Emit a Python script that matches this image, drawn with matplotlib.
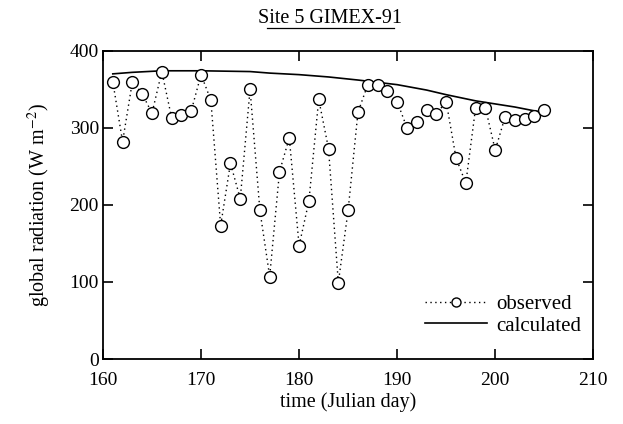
import matplotlib
matplotlib.use('Agg')
import matplotlib.pyplot as plt
from matplotlib.lines import Line2D

# observed daily global radiation, Site 5 GIMEX-91
days = list(range(161, 206))
observed = [360, 282, 360, 344, 319, 373, 313, 316, 322, 369,
            336, 173, 254, 208, 350, 193, 107, 243, 287, 147,
            205, 337, 273, 99, 193, 320, 356, 355, 348, 334,
            300, 307, 323, 318, 334, 261, 228, 326, 326, 271,
            314, 310, 311, 315, 323]

# calculated (clear sky) curve
calc_days = [161, 163, 166, 170, 175, 177, 180, 183, 186, 190, 193, 195, 198, 200, 202, 204, 205]
calculated = [370, 372, 374, 374, 373, 371, 369, 366, 362, 356, 349, 343, 335, 331, 327, 322, 320]

plt.rcParams['font.family'] = ['Liberation Serif', 'DejaVu Serif']
plt.rcParams['mathtext.fontset'] = 'stix'

fig = plt.figure(figsize=(6.23, 4.24), dpi=100)
ax = fig.add_axes([0.1653, 0.1533, 0.787, 0.727])

ax.plot(calc_days, calculated, color='black', linewidth=1.2, label='calculated')
ax.plot(days, observed, linestyle=(0, (1, 2.5)), color='black', linewidth=1.0,
        marker='o', markersize=8.5, markerfacecolor='white', markeredgecolor='black',
        markeredgewidth=1.0, label='observed')

ax.set_xlim(160, 210)
ax.set_ylim(0, 400)
ax.set_xticks([160, 170, 180, 190, 200, 210])
ax.set_yticks([0, 100, 200, 300, 400])
ax.tick_params(direction='in', length=7, width=1.2, top=True, right=True,
               labelsize=14)
ax.tick_params(axis='x', pad=9)
ax.tick_params(axis='y', pad=3)
for s in ax.spines.values():
    s.set_linewidth(1.3)

ax.set_xlabel('time (Julian day)', fontsize=14.5, labelpad=3)
ax.set_ylabel('global radiation (W m$^{-2}$)', fontsize=14.5, labelpad=12)

# legend: observed first, then calculated
handles = [Line2D([], [], linestyle=(0, (1, 2.5)), color='black', linewidth=1.0,
                  marker='o', markersize=6.5, markerfacecolor='white', markeredgecolor='black'),
           Line2D([], [], color='black', linewidth=1.2)]
ax.legend(handles, ['observed', 'calculated'], loc='lower right', frameon=False,
          fontsize=15, handlelength=3.0, handletextpad=0.4, labelspacing=0.1,
          bbox_to_anchor=(1.0, 0.035), borderaxespad=0.2)

title = fig.text(0.53, 0.945, 'Site 5 GIMEX-91', ha='center', va='baseline', fontsize=14.5)
fig.add_artist(Line2D([0.428, 0.632], [0.934, 0.934], color='black', linewidth=0.9,
                      transform=fig.transFigure))

fig.savefig('out.png', dpi=100)
